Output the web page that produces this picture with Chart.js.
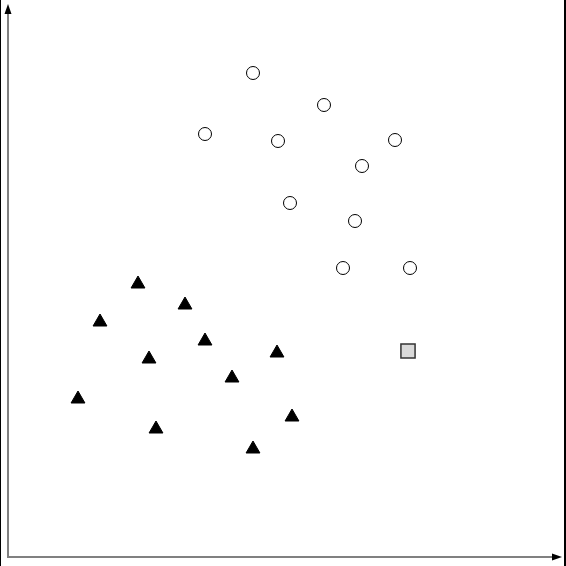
<!DOCTYPE html>
<html>
<head>
<meta charset="utf-8">
<script src="https://cdn.jsdelivr.net/npm/chart.js@4/dist/chart.umd.min.js"></script>
<style>
html,body{margin:0;padding:0;background:#fff;overflow:hidden;}
#wrap{width:566px;height:566px;position:relative;}
canvas{display:block;}
.edge{position:absolute;top:0;height:566px;background:#000;}
</style>
</head>
<body>
<div id="wrap"><canvas id="c"></canvas>
<div class="edge" style="left:0;width:1px;"></div>
<div class="edge" style="right:0;width:2px;"></div>
</div>
<script>
// Data (units: arbitrary)
const circleX = [245, 316, 197, 270, 387, 354, 282, 347, 335, 402];
const circleY = [484, 452, 423, 416, 417, 391, 354, 336, 289, 289];
const triangleX = [130, 177, 92, 197, 269, 141, 224, 70, 284, 148, 245];
const triangleY = [273, 252, 235, 216, 204, 198, 179, 158, 140, 128, 108];
const squareX = [400];
const squareY = [206];
const xRange = [0, 552];
const yRange = [0, 549];

const toPts = (xs, ys) => xs.map((x, i) => ({x: x, y: ys[i]}));

const axesPlugin = {
  id: 'arrowAxes',
  beforeDatasetsDraw(chart) {
    const {ctx, chartArea: a} = chart;
    ctx.save();
    ctx.strokeStyle = '#808080';
    ctx.lineWidth = 2;
    ctx.beginPath();
    ctx.moveTo(a.left, a.top + 4);
    ctx.lineTo(a.left, a.bottom);
    ctx.lineTo(a.right - 4, a.bottom);
    ctx.stroke();
    ctx.fillStyle = '#000';
    // top arrow
    ctx.beginPath();
    ctx.moveTo(a.left, a.top - 4);
    ctx.lineTo(a.left - 3.5, a.top + 6);
    ctx.lineTo(a.left + 3.5, a.top + 6);
    ctx.closePath();
    ctx.fill();
    // right arrow
    ctx.beginPath();
    ctx.moveTo(a.right + 2, a.bottom);
    ctx.lineTo(a.right - 8, a.bottom - 3.5);
    ctx.lineTo(a.right - 8, a.bottom + 3.5);
    ctx.closePath();
    ctx.fill();
    ctx.restore();
  }
};

new Chart(document.getElementById('c'), {
  type: 'scatter',
  data: {
    datasets: [
      {label: 'circles', data: toPts(circleX, circleY), pointStyle: 'circle', pointRadius: 6.5,
       backgroundColor: '#ffffff', borderColor: '#000000', borderWidth: 1},
      {label: 'triangles', data: toPts(triangleX, triangleY), pointStyle: 'triangle', pointRadius: 8,
       backgroundColor: '#000000', borderColor: '#000000', borderWidth: 1},
      {label: 'square', data: toPts(squareX, squareY), pointStyle: 'rect', pointRadius: 10,
       backgroundColor: '#d9d9d9', borderColor: '#333333', borderWidth: 1.5}
    ]
  },
  options: {
    responsive: true,
    maintainAspectRatio: false,
    animation: false,
    layout: {autoPadding: false, padding: {left: 8, top: 8, right: 6, bottom: 9}},
    plugins: {legend: {display: false}, tooltip: {enabled: false}},
    scales: {
      x: {type: 'linear', display: false, min: xRange[0], max: xRange[1]},
      y: {type: 'linear', display: false, min: yRange[0], max: yRange[1]}
    }
  },
  plugins: [axesPlugin]
});
</script>
</body>
</html>
